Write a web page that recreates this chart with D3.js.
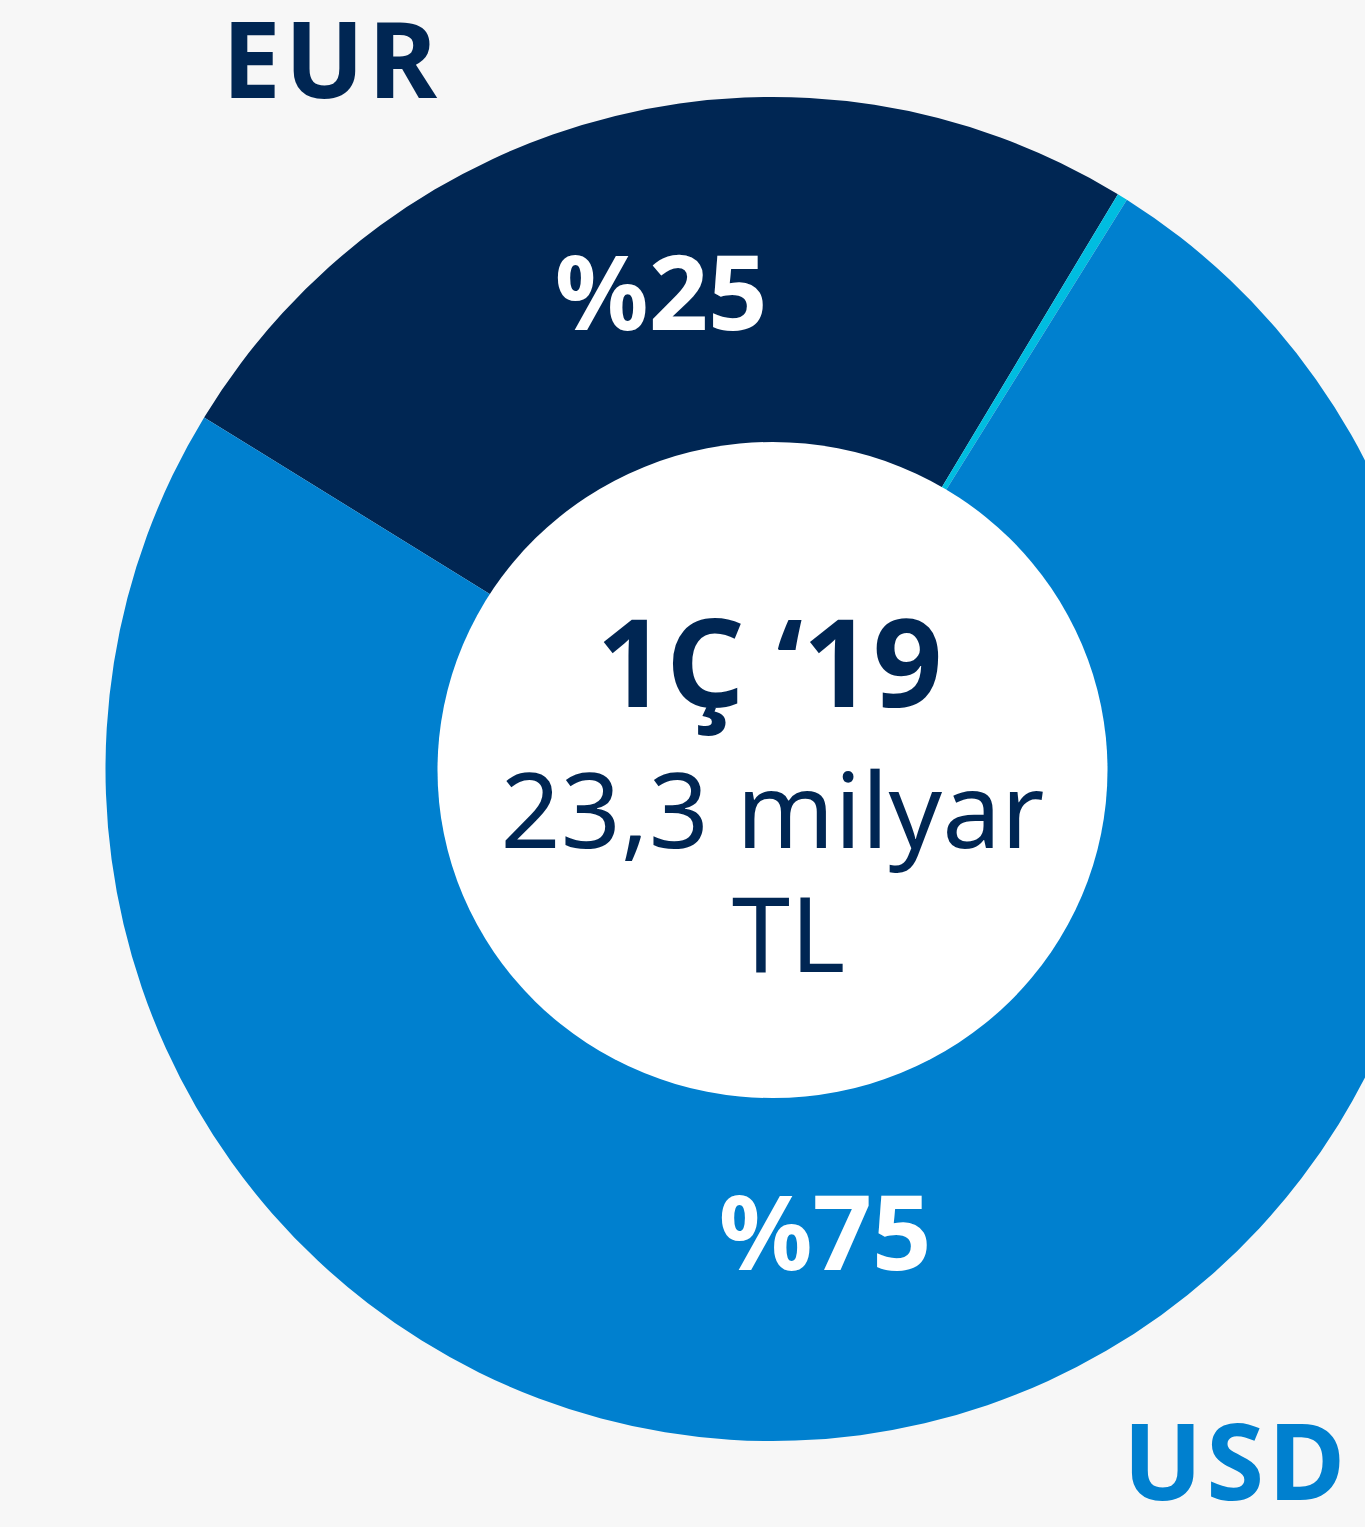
<!DOCTYPE html>
<html>
<head>
<meta charset="utf-8">
<script src="https://cdn.jsdelivr.net/npm/d3@7"></script>
<style>
  html, body { margin: 0; padding: 0; background: #f7f7f7; }
  svg { display: block; }
  text { font-family: "Noto Sans", sans-serif; }
</style>
</head>
<body>
<svg id="chart" width="1365" height="1527"></svg>
<script>
// Data
const categories = ["EUR", "Diğer", "USD"];
const shares = [24.9, 0.25, 74.85];
const valueLabels = ["%25", "", "%75"];
const colors = ["#002653", "#00bde0", "#0080cf"];
const centerTitle = "1Ç ‘19";
const centerLines = ["23,3 milyar", "TL"];

const W = 1365, H = 1527;
const cx = 772.5, cy = 769;
const outerR = 667, innerR = 320;
const holeRx = 335, holeRy = 328;
const startDeg = -58.45;

const svg = d3.select("#chart");
svg.append("rect").attr("width", W).attr("height", H).attr("fill", "#f7f7f7");

const data = categories.map((c, i) => ({ cat: c, value: shares[i], label: valueLabels[i], color: colors[i] }));

const pie = d3.pie()
  .value(d => d.value)
  .sort(null)
  .startAngle(startDeg * Math.PI / 180)
  .endAngle((startDeg + 360) * Math.PI / 180);

const arcs = pie(data);
const arc = d3.arc().innerRadius(innerR).outerRadius(outerR);

const g = svg.append("g").attr("transform", `translate(${cx},${cy}) scale(1,1.0075)`);

g.selectAll("path.slice")
  .data(arcs)
  .join("path")
  .attr("class", "slice")
  .attr("d", arc)
  .attr("fill", d => d.data.color);

const t = svg.append("g").attr("transform", `translate(${cx},${cy})`);

// inner white disk
t.append("ellipse").attr("cx", 0).attr("cy", 1).attr("rx", holeRx).attr("ry", holeRy).attr("fill", "#ffffff");

// value labels inside slices
const labelPos = {
  "EUR": { r: 488, frac: 0.505 },
  "USD": { r: 468, frac: 0.525 }
};
t.selectAll("text.val")
  .data(arcs.filter(d => d.data.label))
  .join("text")
  .attr("class", "val")
  .attr("text-anchor", "middle")
  .attr("fill", "#ffffff")
  .attr("font-weight", 700)
  .attr("font-size", 104)
  .attr("x", d => {
    const p = labelPos[d.data.cat];
    const a = d.startAngle + (d.endAngle - d.startAngle) * p.frac;
    return p.r * Math.sin(a);
  })
  .attr("y", d => {
    const p = labelPos[d.data.cat];
    const a = d.startAngle + (d.endAngle - d.startAngle) * p.frac;
    return -p.r * Math.cos(a) + 36;
  })
  .text(d => d.data.label);

// center text
t.append("text")
  .attr("text-anchor", "middle")
  .attr("x", -3)
  .attr("y", -62)
  .attr("fill", "#002653")
  .attr("font-weight", 700)
  .attr("font-size", 122)
  .text(centerTitle);

t.selectAll("text.cl")
  .data(centerLines)
  .join("text")
  .attr("class", "cl")
  .attr("text-anchor", "middle")
  .attr("x", (d, i) => i === 0 ? 0 : 16)
  .attr("y", (d, i) => 79 + i * 124)
  .attr("fill", "#002653")
  .attr("font-weight", 400)
  .attr("font-size", 105)
  .text(d => d);

// category labels
svg.append("text")
  .attr("x", 222).attr("y", 98)
  .attr("fill", "#002653")
  .attr("font-weight", 700)
  .attr("font-size", 105)
  .attr("letter-spacing", 4)
  .text(categories[0]);

svg.append("text")
  .attr("x", 1349).attr("y", 1500)
  .attr("text-anchor", "end")
  .attr("fill", "#0080cf")
  .attr("font-weight", 700)
  .attr("font-size", 105)
  .attr("letter-spacing", 4)
  .text(categories[2]);
</script>
</body>
</html>
